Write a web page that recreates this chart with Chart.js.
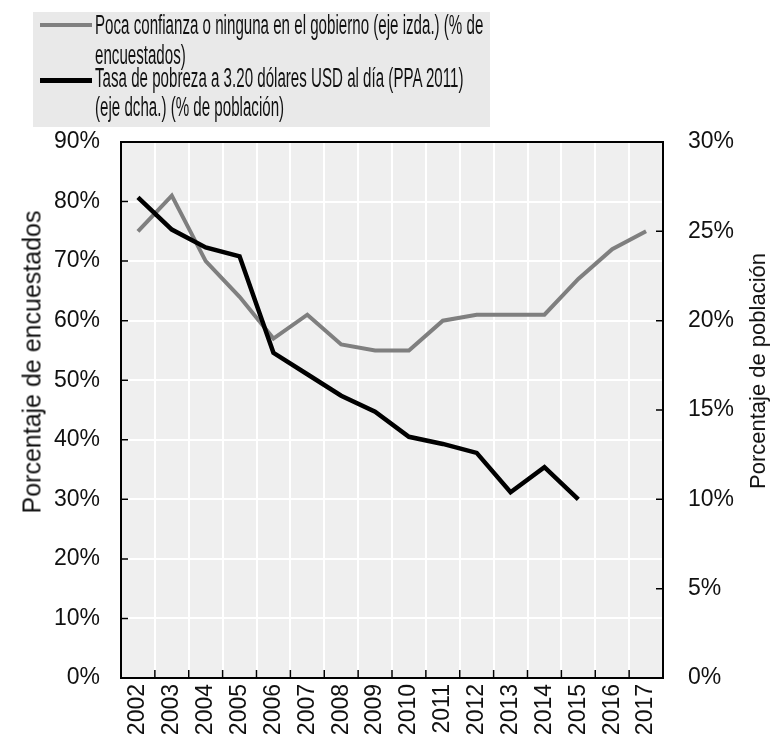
<!DOCTYPE html>
<html>
<head>
<meta charset="utf-8">
<script src="https://cdn.jsdelivr.net/npm/chart.js@4/dist/chart.umd.min.js"></script>
<style>
  html, body { margin: 0; padding: 0; background: #fff; }
  #wrap { position: relative; width: 770px; height: 735px; font-family: "Liberation Sans", Arial, sans-serif; }
  #chart { position: absolute; left: 0; top: 0; }
  .legend-box { position: absolute; left: 33px; top: 12px; width: 457px; height: 115px; background: #e9e9e9; }
  .legend-line { position: absolute; left: 40px; width: 52px; }
  .legend-text { position: absolute; left: 95px; white-space: nowrap; font-family: "Liberation Sans Narrow", "Liberation Sans", Arial, sans-serif;
    font-size: 27px; line-height: 27px; color: #111; transform-origin: 0 50%; transform: scaleX(0.56); }
  .axis-title { position: absolute; white-space: nowrap; color: #111; transform: translate(-50%, -50%) rotate(-90deg); }
</style>
</head>
<body>
<div id="wrap">
  <canvas id="chart" width="770" height="735"></canvas>
  <div class="legend-box"></div>
  <div class="legend-line" style="top:23px;height:4px;background:#808080;"></div>
  <div class="legend-line" style="top:78px;height:5px;background:#000;"></div>
  <div class="legend-text" style="top:12px;">Poca confianza o ninguna en el gobierno (eje izda.) (% de</div>
  <div class="legend-text" style="top:42px;">encuestados)</div>
  <div class="legend-text" style="top:65px;">Tasa de pobreza a 3.20 dólares USD al día (PPA 2011)</div>
  <div class="legend-text" style="top:94px;">(eje dcha.) (% de población)</div>
  <div class="axis-title" style="left:32px;top:362px;font-size:25px;">Porcentaje de encuestados</div>
  <div class="axis-title" style="left:758px;top:371px;font-size:22px;">Porcentaje de población</div>
</div>
<script>
const years = ['2002', '2003', '2004', '2005', '2006', '2007', '2008', '2009',
  '2010', '2011', '2012', '2013', '2014', '2015', '2016', '2017'];

// % of respondents with little or no confidence in government (left axis)
const lowTrust = [75, 81, 70, 64, 57, 61, 56, 55, 55, 60, 61, 61, 61, 67, 72, 75];

// poverty rate at 3.20 USD/day, PPP 2011 (right axis)
const povertyRate = [26.9, 25.1, 24.1, 23.6, 18.2, 17.0, 15.8, 14.9, 13.5, 13.1, 12.6, 10.4, 11.8, 10.0, null, null];

const leftTicks = [0, 10, 20, 30, 40, 50, 60, 70, 80, 90];
const rightTicks = [0, 5, 10, 15, 20, 25, 30];

const tickFont = { family: '"Liberation Sans", Arial, sans-serif', size: 23 };

// plot background, frame and inward tick marks
const framePlugin = {
  id: 'frame',
  beforeDraw(chart) {
    const { ctx, chartArea: a } = chart;
    ctx.save();
    ctx.fillStyle = '#efefef';
    ctx.fillRect(a.left, a.top, a.right - a.left, a.bottom - a.top);
    ctx.restore();
  },
  afterDraw(chart) {
    const { ctx, chartArea: a, scales } = chart;
    ctx.save();
    ctx.strokeStyle = '#000';
    ctx.lineWidth = 2;
    ctx.strokeRect(a.left, a.top, a.right - a.left, a.bottom - a.top);
    ctx.lineWidth = 1.5;
    ctx.beginPath();
    leftTicks.forEach(v => {
      const y = scales.y.getPixelForValue(v);
      ctx.moveTo(a.left, y);
      ctx.lineTo(a.left + 7, y);
    });
    rightTicks.forEach(v => {
      const y = scales.y1.getPixelForValue(v);
      ctx.moveTo(a.right, y);
      ctx.lineTo(a.right - 7, y);
    });
    for (let i = 1; i < years.length; i++) {
      const x = (scales.x.getPixelForTick(i - 1) + scales.x.getPixelForTick(i)) / 2;
      ctx.moveTo(x, a.bottom);
      ctx.lineTo(x, a.bottom - 8);
    }
    ctx.stroke();
    ctx.restore();
  }
};

new Chart(document.getElementById('chart'), {
  type: 'line',
  data: {
    labels: years,
    datasets: [
      {
        label: 'Tasa de pobreza a 3.20 dólares USD al día (PPA 2011) (eje dcha.) (% de población)',
        data: povertyRate,
        yAxisID: 'y1',
        borderColor: '#000',
        borderWidth: 4.5,
        pointRadius: 0,
        tension: 0,
        order: 0
      },
      {
        label: 'Poca confianza o ninguna en el gobierno (eje izda.) (% de encuestados)',
        data: lowTrust,
        yAxisID: 'y',
        borderColor: '#7f7f7f',
        borderWidth: 4,
        pointRadius: 0,
        tension: 0,
        order: 1
      }
    ]
  },
  options: {
    responsive: false,
    animation: false,
    layout: { padding: { top: 142, left: 0, right: 0, bottom: 0 } },
    plugins: {
      legend: { display: false },
      tooltip: { enabled: false }
    },
    scales: {
      x: {
        offset: true,
        grid: { color: '#ffffff', lineWidth: 2, offset: true, drawTicks: false },
        border: { display: false },
        ticks: { color: '#111', font: tickFont, minRotation: 90, maxRotation: 90, padding: 6, autoSkip: false },
        afterFit: scale => { scale.height = 57; }
      },
      y: {
        position: 'left',
        min: 0,
        max: 90,
        grid: { color: '#ffffff', lineWidth: 2, drawTicks: false },
        border: { display: false },
        ticks: { stepSize: 10, color: '#111', font: tickFont, padding: 21, callback: v => v + '%' },
        afterFit: scale => { scale.width = 121; }
      },
      y1: {
        position: 'right',
        min: 0,
        max: 30,
        grid: { display: false, drawTicks: false },
        border: { display: false },
        ticks: { stepSize: 5, color: '#111', font: tickFont, padding: 25, callback: v => v + '%' },
        afterFit: scale => { scale.width = 107; }
      }
    }
  },
  plugins: [framePlugin]
});
</script>
</body>
</html>
